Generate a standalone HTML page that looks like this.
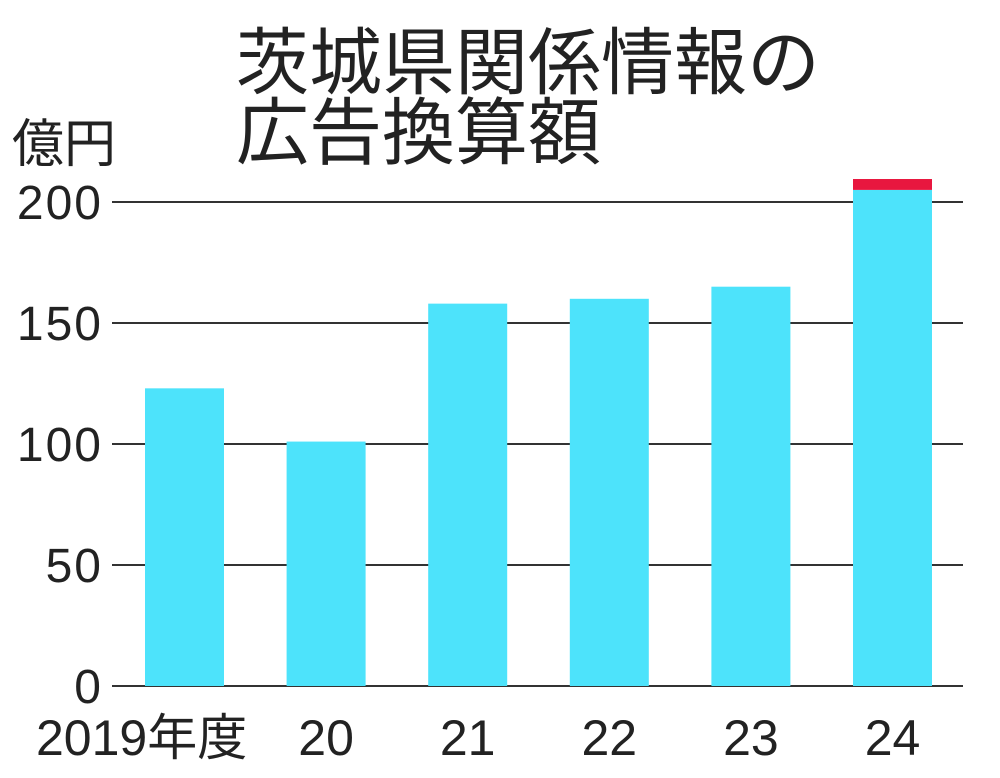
<!DOCTYPE html>
<html><head><meta charset="utf-8"><style>
body{margin:0;background:#fff;}
svg text{font-family:"Liberation Sans","Noto Sans CJK JP",sans-serif;fill:#222;}
</style></head><body>
<svg width="1000" height="773" viewBox="0 0 1000 773">
<text x="236" y="88" font-size="73">茨城県関係情報の</text>
<text x="236" y="158" font-size="73">広告換算額</text>
<text x="12" y="162" font-size="52">億円</text>
<g id="grid"></g><g id="bars"></g><g id="labels"></g>
</svg>
<script>
const categories=["2019年度","20","21","22","23","24"];
const baseValues=[123,101,158,160,165,205];
const extraValues=[0,0,0,0,0,4.5];
const yTicks=[0,50,100,150,200];
const y0=686,pxPer=2.42,x0=145,step=141.6,bw=79;
const ns="http://www.w3.org/2000/svg";
function y(v){return y0-v*pxPer;}
function el(t,a,p){const e=document.createElementNS(ns,t);for(const k in a)e.setAttribute(k,a[k]);document.getElementById(p).appendChild(e);return e;}
yTicks.forEach(v=>{
 const l=el("line",{x1:112,x2:963,y1:y(v),y2:y(v),stroke:"#333","stroke-width":2},"grid");
 
 
 const t=el("text",{x:103,y:y(v)+17,"font-size":48,"text-anchor":"end","letter-spacing":"2"},"labels");
 t.textContent=v;
 
 
});
categories.forEach((c,i)=>{
 const x=x0+i*step;
 const b=el("rect",{x:x,y:y(baseValues[i]),width:bw,height:baseValues[i]*pxPer,fill:"#4de3fb"},"bars");
 
 
 if(extraValues[i]>0){
  const r=el("rect",{x:x,y:y(baseValues[i]+extraValues[i]),width:bw,height:extraValues[i]*pxPer,fill:"#e8173f"},"bars");
  
  
 }
 const t=el("text",{x:i==0?36:x+bw/2,y:755,"font-size":50,"text-anchor":i==0?"start":"middle"},"labels");
 t.textContent=c;
 
 
});
</script>
</body></html>
